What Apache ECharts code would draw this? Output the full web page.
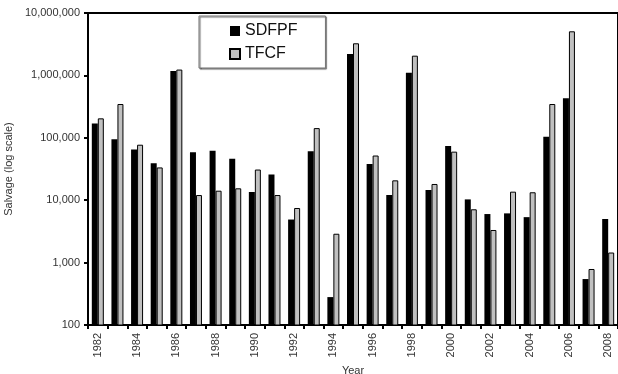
<!DOCTYPE html>
<html>
<head>
<meta charset="utf-8">
<script src="https://cdn.jsdelivr.net/npm/echarts@6/dist/echarts.min.js"></script>
<style>
  html, body { margin: 0; padding: 0; background: #fff; }
  #chart { width: 618px; height: 374px; }
</style>
</head>
<body>
<div id="chart"></div>
<script>
var years = ['1982', '1983', '1984', '1985', '1986', '1987', '1988', '1989', '1990',
    '1991', '1992', '1993', '1994', '1995', '1996', '1997', '1998', '1999', '2000',
    '2001', '2002', '2003', '2004', '2005', '2006', '2007', '2008'];
var sdfpf = [170000, 95000, 65000, 39000, 1180000, 58500, 62000, 46000, 13500,
    25700, 4900, 61000, 280, 2200000, 38000, 12100, 1100000, 14600, 74000,
    10300, 6000, 6150, 5350, 104000, 430000, 545, 5000];
var tfcf = [205000, 348000, 77500, 33500, 1240000, 12100, 14200, 15500, 31000,
    12100, 7500, 143000, 2900, 3270000, 52000, 20800, 2070000, 18200, 60000,
    7150, 3330, 13700, 13400, 348000, 5090000, 790, 1450];

var chart = echarts.init(document.getElementById('chart'));

function commas(v) {
    return String(Math.round(v)).replace(/\B(?=(\d{3})+(?!\d))/g, ',');
}

var opt = {
    animation: false,
    textStyle: { fontFamily: 'Liberation Sans, Arial, sans-serif' },
    grid: {
        left: 88, right: 0, top: 13, bottom: 49,
        outerBoundsMode: 'none',
        containLabel: false,
        show: true,
        borderColor: '#000',
        borderWidth: 2
    },
    legend: {
        orient: 'vertical',
        left: 199, top: 16,
        padding: [7, 28, 6, 30],
        itemGap: 7,
        itemWidth: 10, itemHeight: 10,
        icon: 'rect',
        backgroundColor: '#fff',
        borderColor: '#777',
        borderWidth: 1,
        shadowColor: 'rgba(0,0,0,0.6)',
        shadowOffsetX: 1, shadowOffsetY: 1, shadowBlur: 1,
        textStyle: { fontSize: 16, color: '#111', fontFamily: 'Liberation Sans, Arial, sans-serif' },
        data: ['SDFPF', 'TFCF']
    },
    xAxis: {
        type: 'category',
        data: years,
        name: 'Year',
        nameLocation: 'middle',
        nameGap: 38,
        nameTextStyle: { fontSize: 11, color: '#333' },
        axisLine: { lineStyle: { color: '#000', width: 2 } },
        axisTick: { show: true, interval: 0, length: 4, lineStyle: { color: '#000', width: 2 } },
        axisLabel: { interval: 1, rotate: 90, fontSize: 11, color: '#333', margin: 8 }
    },
    yAxis: {
        type: 'log',
        logBase: 10,
        min: 100,
        max: 10000000,
        name: 'Salvage (log scale)',
        nameLocation: 'middle',
        nameGap: 65,
        nameTextStyle: { fontSize: 11, color: '#333' },
        axisLine: { show: true, lineStyle: { color: '#000', width: 2 } },
        axisTick: { show: true, length: 4, lineStyle: { color: '#000', width: 2 } },
        splitLine: { show: false },
        axisLabel: { fontSize: 11, color: '#333', margin: 8, formatter: commas }
    },
    series: [
        {
            name: 'SDFPF',
            type: 'bar',
            data: sdfpf,
            barWidth: 6,
            barGap: '0%',
            itemStyle: { color: '#000' }
        },
        {
            name: 'TFCF',
            type: 'bar',
            data: tfcf,
            barWidth: 6,
            itemStyle: { color: '#c0c0c0', borderColor: '#000', borderWidth: 1 }
        }
    ]
};

chart.setOption(opt);
</script>
</body>
</html>
